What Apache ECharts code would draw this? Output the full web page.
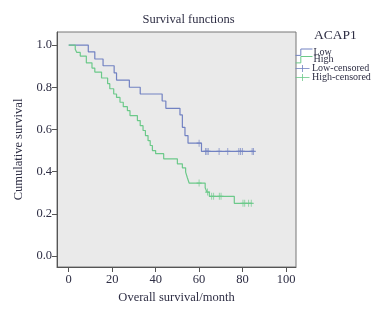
<!DOCTYPE html>
<html>
<head>
<meta charset="utf-8">
<script src="https://cdn.jsdelivr.net/npm/echarts@6/dist/echarts.min.js"></script>
<style>
  html, body { margin: 0; padding: 0; background: #fff; }
  #chart { width: 377px; height: 309px; }
</style>
</head>
<body>
<div id="chart"></div>
<script>
  // Kaplan-Meier steps (time in months, survival after the drop)
  var lowTimes = [0, 9.0, 12.0, 15.8, 20.9, 22.0, 27.9, 32.9, 43.0, 44.7, 51.2, 52.3, 53.5, 54.9, 61.1, 85.3];
  var lowSurv  = [1.0, 0.968, 0.934, 0.902, 0.868, 0.834, 0.800, 0.768, 0.735, 0.700, 0.669, 0.610, 0.571, 0.535, 0.496, 0.496];
  var lowCensor = [60.0, 63.0, 63.6, 64.2, 69.2, 73.2, 78.3, 79.1, 79.9, 84.4, 85.0];

  var highTimes = [0, 3.0, 3.7, 5.3, 8.1, 10.7, 12.0, 15.1, 17.9, 18.9, 20.7, 22.0, 23.6, 25.1, 27.0, 28.2, 31.6, 32.9, 34.2, 35.3, 36.5, 37.5, 38.5, 40.0, 43.7, 50.0, 52.3, 53.8, 54.6, 55.4, 62.8, 63.6, 64.7, 76.2, 84.5];
  var highSurv  = [1.0, 0.98, 0.965, 0.948, 0.916, 0.891, 0.872, 0.844, 0.817, 0.793, 0.768, 0.752, 0.729, 0.708, 0.689, 0.666, 0.642, 0.618, 0.595, 0.571, 0.547, 0.524, 0.500, 0.485, 0.461, 0.437, 0.418, 0.398, 0.371, 0.346, 0.324, 0.303, 0.283, 0.250, 0.250];
  var highCensor = [60.0, 63.9, 65.8, 66.7, 69.3, 70.1, 80.2, 81.0, 82.8, 84.0];

  var xTicks = [0, 20, 40, 60, 80, 100];
  var yTicks = [0, 0.2, 0.4, 0.6, 0.8, 1.0];

  var legendNames = ['Low', 'High', 'Low-censored', 'High-censored'];

  var lowColor = '#7282c2';
  var highColor = '#6cc98a';
  var textColor = '#2e2e44';
  var serif = '"Liberation Serif", "DejaVu Serif", serif';

  function pairs(xs, ys) {
    return xs.map(function (x, i) { return [x, ys[i]]; });
  }
  // survival value of a step curve at time t (used to sit censor marks on the line)
  function survAt(xs, ys, t) {
    var s = ys[0];
    for (var i = 0; i < xs.length; i++) {
      if (xs[i] <= t) s = ys[i];
    }
    return s;
  }
  function censorPts(cs, xs, ys) {
    return cs.map(function (t) { return [t, survAt(xs, ys, t)]; });
  }

  var plus = 'path://M5,0L5,10M0,5L10,5';
  var stepIcon = 'path://M0,7L5,7L5,1L16,1';
  var plusIcon = 'path://M0,4L16,4M8,0L8,8';

  // one legend block per row so the rows can sit as tight as in the picture
  var legendTops = [46.5, 54, 62.5, 71.5];
  var legendIcons = [stepIcon, stepIcon, plusIcon, plusIcon];
  var legendColors = [lowColor, highColor, lowColor, highColor];
  var legends = legendNames.map(function (n, i) {
    return {
      orient: 'vertical',
      left: 293,
      top: legendTops[i],
      padding: 0,
      itemWidth: 17,
      itemHeight: 7,
      itemGap: 0,
      selectedMode: false,
      textStyle: { fontFamily: serif, fontSize: 10, color: textColor, padding: [0, 0, 0, -4] },
      data: [{ name: n, icon: legendIcons[i], itemStyle: { color: 'none', borderColor: legendColors[i], borderWidth: 1 } }]
    };
  });

  var myChart = echarts.init(document.getElementById('chart'));
  var option = {
    animation: false,
    backgroundColor: '#fff',
    title: [
      {
        text: 'Survival functions',
        left: 'center',
        top: 8,
        textStyle: { fontFamily: serif, fontSize: 12.5, fontWeight: 'normal', color: textColor }
      },
      {
        text: 'ACAP1',
        left: 309,
        top: 23,
        textStyle: { fontFamily: serif, fontSize: 13.5, fontWeight: 'normal', color: textColor }
      }
    ],
    legend: legends,
    grid: {
      left: 57,
      right: 81,
      top: 32,
      bottom: 41,
      show: true,
      backgroundColor: '#eaeaea',
      borderColor: '#777',
      borderWidth: 1
    },
    xAxis: {
      type: 'value',
      min: -5.4,
      max: 104.6,
      name: 'Overall survival/month',
      nameLocation: 'middle',
      nameGap: 24,
      nameTextStyle: { fontFamily: serif, fontSize: 12.5, color: textColor },
      axisLine: { show: true, onZero: false, lineStyle: { color: '#555' } },
      axisTick: { show: true, length: 5, customValues: xTicks, lineStyle: { color: '#555' } },
      axisLabel: { customValues: xTicks, margin: 6, fontFamily: serif, fontSize: 12.5, color: textColor },
      splitLine: { show: false }
    },
    yAxis: {
      type: 'value',
      min: -0.052,
      max: 1.062,
      name: 'Cumulative survival',
      nameLocation: 'middle',
      nameRotate: 90,
      nameGap: 32,
      nameTextStyle: { fontFamily: serif, fontSize: 12.5, color: textColor },
      axisLine: { show: true, onZero: false, lineStyle: { color: '#555' } },
      axisTick: { show: true, length: 5, customValues: yTicks, lineStyle: { color: '#555' } },
      axisLabel: {
        customValues: yTicks,
        margin: 5,
        fontFamily: serif,
        fontSize: 12.5,
        color: textColor,
        formatter: function (v) { return v.toFixed(1); }
      },
      splitLine: { show: false }
    },
    series: [
      {
        name: 'Low',
        type: 'line',
        step: 'end',
        symbol: 'none',
        data: pairs(lowTimes, lowSurv),
        lineStyle: { color: lowColor, width: 1.2 },
        itemStyle: { color: lowColor },
        z: 3
      },
      {
        name: 'High',
        type: 'line',
        step: 'end',
        symbol: 'none',
        data: pairs(highTimes, highSurv),
        lineStyle: { color: highColor, width: 1.2 },
        itemStyle: { color: highColor },
        z: 3
      },
      {
        name: 'Low-censored',
        type: 'scatter',
        symbol: plus,
        symbolSize: [5, 7],
        data: censorPts(lowCensor, lowTimes, lowSurv),
        itemStyle: { color: 'none', borderColor: lowColor, borderWidth: 1 },
        z: 4
      },
      {
        name: 'High-censored',
        type: 'scatter',
        symbol: plus,
        symbolSize: [5, 7],
        data: censorPts(highCensor, highTimes, highSurv),
        itemStyle: { color: 'none', borderColor: highColor, borderWidth: 1 },
        z: 4
      }
    ]
  };
  myChart.setOption(option);
</script>
</body>
</html>
